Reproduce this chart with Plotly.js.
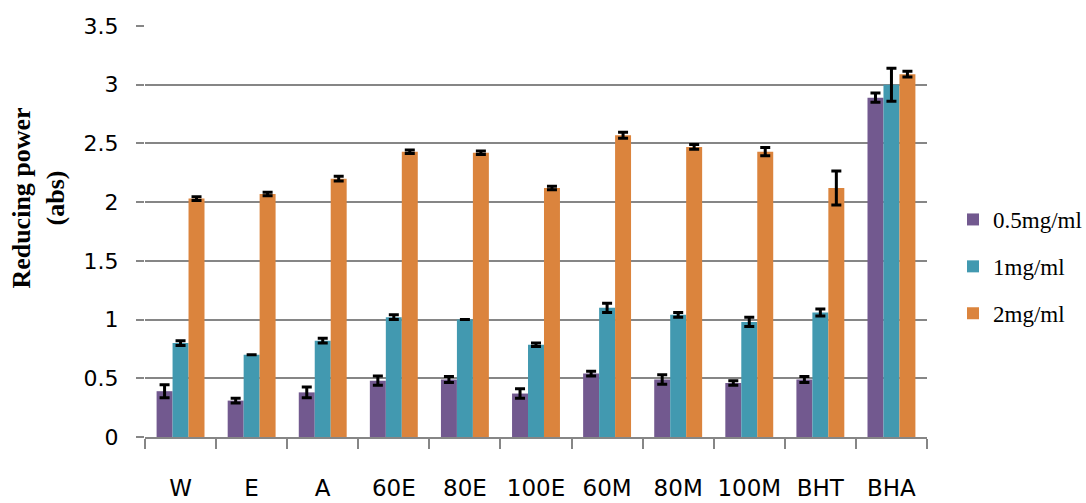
<!DOCTYPE html>
<html>
<head>
<meta charset="utf-8">
<script src="https://cdn.plot.ly/plotly-3.0.1.min.js"></script>
<style>html,body{margin:0;padding:0;background:#fff;}#chart{width:1086px;height:503px;}</style>
</head>
<body>
<div id="chart"></div>
<script>
var categories = ["W", "E", "A", "60E", "80E", "100E", "60M", "80M", "100M", "BHT", "BHA"];
var seriesNames = ["0.5mg/ml", "1mg/ml", "2mg/ml"];
var vals05 = [0.39, 0.31, 0.38, 0.48, 0.49, 0.37, 0.54, 0.49, 0.46, 0.49, 2.89];
var err05  = [0.055, 0.02, 0.045, 0.04, 0.025, 0.04, 0.02, 0.04, 0.02, 0.025, 0.04];
var vals1  = [0.80, 0.70, 0.82, 1.02, 1.00, 0.785, 1.10, 1.04, 0.98, 1.06, 3.00];
var err1   = [0.02, 0, 0.02, 0.02, 0, 0.015, 0.04, 0.02, 0.04, 0.03, 0.14];
var vals2  = [2.03, 2.07, 2.20, 2.43, 2.42, 2.12, 2.57, 2.47, 2.43, 2.12, 3.09];
var err2   = [0.015, 0.015, 0.02, 0.015, 0.015, 0.015, 0.025, 0.02, 0.035, 0.145, 0.025];
var colors = ["rgb(114,89,143)", "rgb(66,153,176)", "rgb(219,132,61)"];

var allVals = [vals05, vals1, vals2];
var allErr = [err05, err1, err2];
var traces = allVals.map(function (v, i) {
  return {
    type: "bar",
    name: seriesNames[i],
    x: categories,
    y: v,
    legendgroup: "g" + i,
    marker: {color: colors[i]},
    error_y: {type: "data", array: allErr[i], visible: true, color: "#000", thickness: 3, width: 5}
  };
});

var plotL = 145, plotR = 159, W = 1086, H = 503;
var plotW = W - plotL - plotR;
var layout = {
  width: W, height: H,
  margin: {l: plotL, r: plotR, t: 26, b: 65.5, autoexpand: false},
  paper_bgcolor: "#fff", plot_bgcolor: "#fff",
  barmode: "group", bargap: 0.326, bargroupgap: 0,
  font: {family: "DejaVu Sans", color: "#000"},
  showlegend: true,
  legend: {
    xref: "container", yref: "container",
    x: 953 / W, y: 1 - 198 / H, xanchor: "left", yanchor: "top",
    font: {family: "Liberation Serif", size: 23, color: "#000"},
    traceorder: "grouped", tracegroupgap: 14,
    bgcolor: "rgba(0,0,0,0)"
  },
  xaxis: {
    type: "category",
    showline: true, linecolor: "#868686", linewidth: 2,
    ticks: "outside", tickson: "boundaries", ticklen: 10, tickwidth: 2, tickcolor: "#868686",
    tickfont: {family: "DejaVu Sans", size: 23, color: "#000"},
    tickangle: 0, automargin: false,
    ticklabelstandoff: 29,
    showgrid: false, zeroline: false, fixedrange: true
  },
  yaxis: {
    range: [0, 3.5], dtick: 0.5, tick0: 0,
    showline: false, zeroline: false,
    showgrid: true, gridcolor: "#868686", gridwidth: 2,
    ticks: "outside", ticklen: 8, tickwidth: 2, tickcolor: "#868686",
    tickfont: {family: "DejaVu Sans", size: 22, color: "#000"},
    ticklabelstandoff: 13, fixedrange: true, automargin: false
  },
  annotations: [{
    text: "<b>Reducing power<br>(abs)</b>",
    xref: "paper", yref: "paper",
    x: (39 - plotL) / plotW, y: 0.58, xanchor: "center", yanchor: "middle",
    textangle: -90, showarrow: false,
    font: {family: "Liberation Serif", size: 26, color: "#000"}
  }]
};
Plotly.newPlot("chart", traces, layout, {displayModeBar: false, staticPlot: true});
</script>
</body>
</html>
